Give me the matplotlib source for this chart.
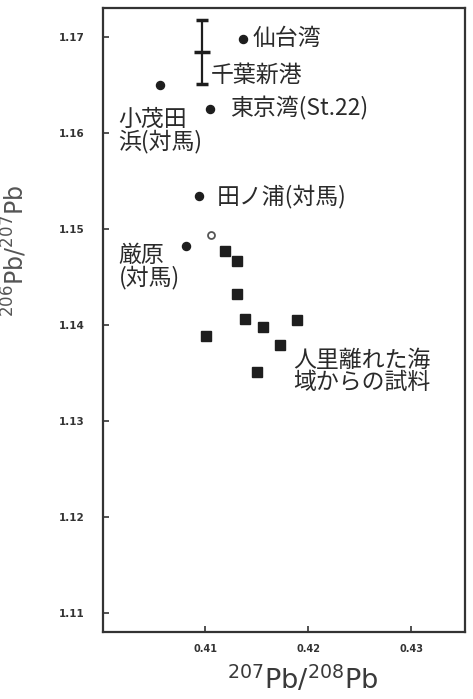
import matplotlib
matplotlib.use("Agg")
import matplotlib.pyplot as plt

plt.rcParams['font.family'] = ['Noto Sans CJK JP', 'DejaVu Sans']

# 207Pb/208Pb (x) and 206Pb/207Pb (y) for each sampling site
sendai_x, sendai_y = 0.4137, 1.1698
chiba_x, chiba_y, chiba_err = 0.4097, 1.1684, 0.0033
komoda_x, komoda_y = 0.4056, 1.1650
tokyo_x, tokyo_y = 0.4105, 1.1625
tanoura_x, tanoura_y = 0.4094, 1.1534
izuhara_x, izuhara_y = 0.4081, 1.1482
open_x, open_y = 0.4106, 1.1494

# samples from remote sea areas
remote_x = [0.4119, 0.4131, 0.4131, 0.4139, 0.4156, 0.4173, 0.4189, 0.4101, 0.4150]
remote_y = [1.1477, 1.1466, 1.1432, 1.1406, 1.1398, 1.1379, 1.1405, 1.1388, 1.1351]

xticks = [0.41, 0.42, 0.43]
yticks = [1.11, 1.12, 1.13, 1.14, 1.15, 1.16, 1.17]

ink = '#1e1e1e'

fig = plt.figure(figsize=(4.73, 6.99), dpi=100)
ax = fig.add_axes([103 / 473, 1 - 632 / 699, 362 / 473, 624 / 699])

ax.plot([sendai_x, komoda_x, tokyo_x, tanoura_x, izuhara_x],
        [sendai_y, komoda_y, tokyo_y, tanoura_y, izuhara_y],
        'o', color=ink, markersize=5.8, linestyle='none')
ax.plot(open_x, open_y, 'o', markerfacecolor='white', markeredgecolor='#555555',
        markersize=5, markeredgewidth=1.3)
ax.plot(remote_x, remote_y, 's', color=ink, markersize=7.2)
ax.errorbar(chiba_x, chiba_y, yerr=chiba_err, fmt='_', color=ink,
            markersize=12, markeredgewidth=2.5, elinewidth=1.6,
            capsize=4, capthick=1.6)

lab = dict(fontsize=16.5, color='#2a2a2a', textcoords='offset points',
           ha='left', va='center', linespacing=0.95)
ax.annotate('仙台湾', (sendai_x, sendai_y), xytext=(7, 0), **lab)
ax.annotate('千葉新港', (chiba_x, chiba_y), xytext=(6, -17), **lab)
ax.annotate('東京湾(St.22)', (tokyo_x, tokyo_y), xytext=(14, 0), **lab)
ax.annotate('小茂田\n浜(対馬)', (komoda_x, komoda_y), xytext=(-30, -33), **lab)
ax.annotate('田ノ浦(対馬)', (tanoura_x, tanoura_y), xytext=(13, 0), **lab)
ax.annotate('厳原\n(対馬)', (izuhara_x, izuhara_y), xytext=(-48, -15), **lab)
ax.annotate('人里離れた海\n域からの試料', (remote_x[5], remote_y[5]),
            xytext=(9, -19), **lab)

ax.set_xlim(0.4001, 0.4352)
ax.set_ylim(1.1080, 1.1730)
ax.set_xticks(xticks)
ax.set_xticklabels(['%.2f' % v for v in xticks], fontsize=7, fontweight='bold',
                   color='#555555', family='DejaVu Sans')
ax.set_yticks(yticks)
ax.set_yticklabels(['%.2f' % v for v in yticks], fontsize=7.5, fontweight='bold',
                   color='#333333', family='DejaVu Sans')
ax.tick_params(direction='in', length=4, width=1.2, colors='#333333', pad=9)
ax.tick_params(axis='y', pad=13)

for side in ax.spines.values():
    side.set_linewidth(1.6)
    side.set_color('#333333')

ax.set_xlabel('$^{207}$Pb/$^{208}$Pb', fontsize=19.5, color='#3a3a3a',
              family='DejaVu Sans')
ax.set_ylabel('$^{206}$Pb/$^{207}$Pb', fontsize=17, color='#555555',
              family='DejaVu Sans')
ax.xaxis.set_label_coords(0.552, -0.052)
ax.yaxis.set_label_coords(-0.205, 0.61)

fig.savefig('out.png', dpi=100)
